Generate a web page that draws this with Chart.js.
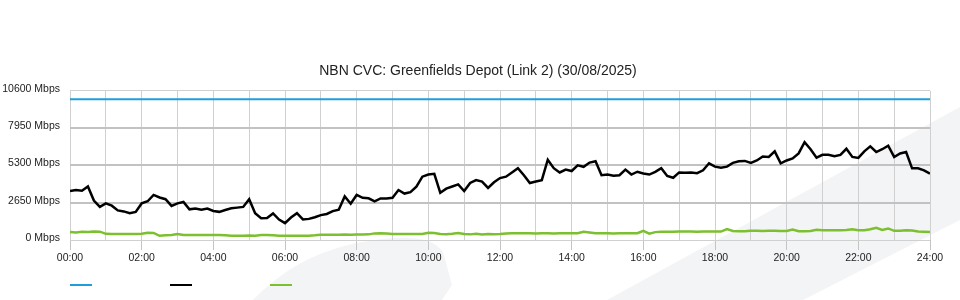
<!DOCTYPE html>
<html lang="en">
<head>
  <meta charset="UTF-8">
  <title>NBN CVC</title>
  <script src="https://cdn.jsdelivr.net/npm/chart.js"></script>
  <style>
    body {
      margin: 0;
      background: #ffffff;
      font-family: "Liberation Sans", Arial, sans-serif;
    }

    #wrap {
      position: relative;
      width: 960px;
      height: 300px;
      overflow: hidden;
    }

    #marca {
      position: absolute;
      left: 0;
      top: 0;
    }

    canvas {
      position: absolute;
      left: 0;
      top: 0;
    }

    .legenda {
      position: absolute;
      top: 284px;
      width: 22px;
      height: 2px;
    }
  </style>
</head>
<body>

  <div id="wrap">
    <svg id="marca" width="960" height="300">
      <path d="M253,300 C290,262 330,246 375,240 C405,236 432,236 443,252 L452,285 L442,300 Z" fill="#f3f4f6" />
      <polygon points="607,300 960,107 960,220 803,300" fill="#f3f4f6" />
    </svg>
    <canvas id="grafico" width="960" height="300"></canvas>
    <div class="legenda" style="left:70px;background:#1e9fdc"></div>
    <div class="legenda" style="left:170px;background:#000000"></div>
    <div class="legenda" style="left:270px;background:#7cbf2f"></div>
  </div>

  <script>
    const titulo = "NBN CVC: Greenfields Depot (Link 2) (30/08/2025)";

    // y axis ticks (Mbps)
    const yTicks = [0, 2650, 5300, 7950, 10600];

    // samples every 10 minutes from 00:00 to 24:00
    const stepMinutes = 10;

    // link capacity (Mbps), start and end of day
    const capacityHours = [0, 24];
    const capacity = [10000, 10000];

    // traffic in (Mbps), one row per hour
    const trafficIn = [
      3480, 3550, 3500, 3800, 2800, 2350,
      2600, 2440, 2100, 2030, 1900, 2000,
      2600, 2750, 3200, 3020, 2900, 2420,
      2600, 2700, 2180, 2240, 2150, 2230,
      2060, 2000, 2130, 2250, 2300, 2350,
      2900, 1900, 1540, 1560, 1890, 1450,
      1200, 1600, 1900, 1460, 1500, 1620,
      1770, 1850, 2050, 2150, 3100, 2580,
      3200, 3000, 2960, 2750, 2950, 2950,
      3000, 3550, 3300, 3400, 3790, 4500,
      4650, 4700, 3350, 3650, 3800, 3950,
      3480, 4050, 4260, 4150, 3700, 4100,
      4400, 4500, 4800, 5100, 4600, 4050,
      4150, 4250, 5700, 5100, 4800, 5000,
      4900, 5300, 5200, 5500, 5600, 4600,
      4650, 4560, 4600, 5000, 4650, 4850,
      4720, 4650, 4840, 5100, 4550, 4420,
      4800, 4780, 4800, 4750, 4950, 5450,
      5210, 5140, 5210, 5480, 5600, 5620,
      5480, 5650, 5930, 5900, 6300, 5450,
      5650, 5800, 6150, 6950, 6450, 5850,
      6050, 6060, 5950, 6050, 6480, 5900,
      5830, 6300, 6650, 6250, 6450, 6700,
      5900, 6150, 6250, 5090, 5090, 4950,
      4720
    ];

    // traffic out (Mbps)
    const trafficOut = [
      560, 540, 580, 570, 600, 590,
      440, 425, 425, 425, 425, 430,
      440, 520, 500, 300, 330, 350,
      420, 360, 355, 355, 355, 355,
      350, 355, 345, 310, 310, 300,
      315, 310, 355, 355, 330, 310,
      310, 310, 300, 310, 310, 330,
      380, 380, 380, 380, 385, 380,
      385, 390, 400, 470, 475, 470,
      430, 425, 425, 425, 430, 430,
      510, 500, 425, 410, 450, 500,
      420, 400, 440, 390, 430, 410,
      420, 470, 475, 475, 475, 475,
      470, 480, 475, 470, 478, 475,
      475, 480, 590, 540, 480, 475,
      475, 470, 478, 475, 472, 480,
      650, 450, 560, 590, 590, 590,
      600, 600, 600, 590, 600, 600,
      600, 600, 780, 640, 620, 620,
      650, 650, 640, 660, 650, 640,
      640, 740, 630, 630, 640, 720,
      700, 700, 690, 700, 710, 760,
      700, 700, 760, 860, 720, 820,
      650, 660, 690, 680, 600, 590,
      560
    ];

    const paraPontos = (serie) => serie.map((v, i) => ({ x: i * stepMinutes / 60, y: v }));

    Chart.defaults.font.family = "'Liberation Sans', Arial, sans-serif";
    Chart.defaults.color = "#333333";

    const ctx = document.getElementById("grafico").getContext("2d");

    new Chart(ctx, {
      type: "line",
      data: {
        datasets: [
          {
            label: "Capacity",
            data: capacityHours.map((h, i) => ({ x: h, y: capacity[i] })),
            borderColor: "#1e9fdc",
            borderWidth: 2,
            pointRadius: 0
          },
          {
            label: "In",
            data: paraPontos(trafficIn),
            borderColor: "#000000",
            borderWidth: 2.5,
            pointRadius: 0
          },
          {
            label: "Out",
            data: paraPontos(trafficOut),
            borderColor: "#7cbf2f",
            borderWidth: 2.5,
            pointRadius: 0
          }
        ]
      },
      options: {
        responsive: false,
        animation: false,
        layout: { padding: { left: 0, right: 4, top: 0, bottom: 0 } },
        plugins: {
          legend: { display: false },
          tooltip: { enabled: false },
          title: {
            display: true,
            text: titulo,
            color: "#222222",
            font: { size: 14, weight: "normal" },
            padding: { top: 63, bottom: 11 }
          }
        },
        scales: {
          x: {
            type: "linear",
            min: 0,
            max: 24,
            afterFit: (scale) => { scale.height = 60; },
            border: { display: false },
            grid: {
              color: "#d0d0d0",
              lineWidth: 1,
              tickLength: 10,
              tickColor: (c) => (c.tick && c.tick.value % 2 === 0) ? "#c4c4c4" : "rgba(0,0,0,0)"
            },
            ticks: {
              stepSize: 1,
              autoSkip: false,
              maxRotation: 0,
              padding: 2,
              color: "#222222",
              font: { size: 10.5 },
              callback: (v) => v % 2 === 0 ? String(v).padStart(2, "0") + ":00" : ""
            }
          },
          y: {
            min: 0,
            max: 10600,
            afterFit: (scale) => { scale.width = 70; },
            afterBuildTicks: (scale) => { scale.ticks = yTicks.map(v => ({ value: v })); },
            border: { display: false },
            grid: {
              drawTicks: false,
              color: (c) => (c.tick.value === 0 || c.tick.value === 10600) ? "#d0d0d0" : "#c2c2c2",
              lineWidth: (c) => (c.tick.value === 0 || c.tick.value === 10600) ? 1 : 2
            },
            ticks: {
              padding: 10,
              labelOffset: -2,
              color: "#222222",
              font: { size: 10.5 },
              callback: (v) => v + " Mbps"
            }
          },
          // empty right margin so the title centres on the page
          margem: {
            position: "right",
            afterFit: (scale) => { scale.width = 26; },
            border: { display: false },
            grid: { display: false },
            ticks: { display: false }
          }
        }
      }
    });
  </script>

</body>
</html>
